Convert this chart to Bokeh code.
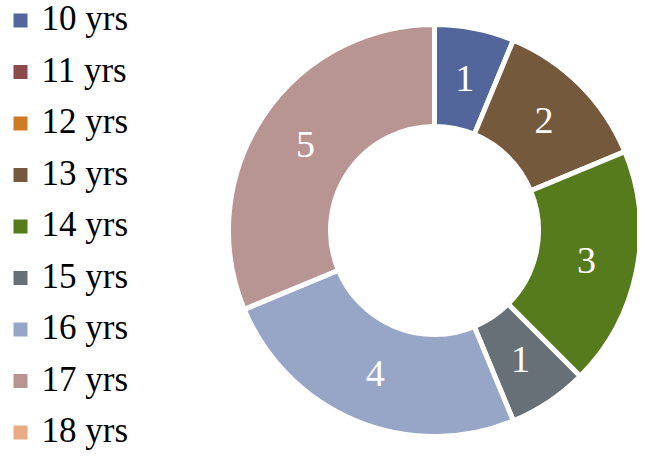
import math
from bokeh.plotting import figure
from bokeh.models import ColumnDataSource
from bokeh.core.properties import value
from bokeh.embed import file_html
from bokeh.resources import INLINE

categories = ["10 yrs", "11 yrs", "12 yrs", "13 yrs", "14 yrs", "15 yrs", "16 yrs", "17 yrs", "18 yrs"]
counts = [1, 0, 0, 2, 3, 1, 4, 5, 0]
colors = ["#52669c", "#8b4b4d", "#cf7a25", "#75593d", "#567b1c", "#667076", "#97a5c7", "#b89493", "#e9ab85"]

W, H = 637, 454
p = figure(width=W, height=H, x_range=(0, W), y_range=(0, H), min_border=0,
           x_axis_type=None, y_axis_type=None, toolbar_location=None,
           output_backend="svg", outline_line_color=None)
p.grid.visible = False

# donut geometry (data units == pixels)
cx, cy = 434, 224
r_in, r_out = 104, 206
r_lab = 155

total = sum(counts)
starts, ends, cols, labs, lx, ly = [], [], [], [], [], []
cum = 0
for c, col in zip(counts, colors):
    if c > 0:
        a0 = math.pi / 2 - 2 * math.pi * cum / total
        a1 = math.pi / 2 - 2 * math.pi * (cum + c) / total
        starts.append(a0)
        ends.append(a1)
        cols.append(col)
        mid = (a0 + a1) / 2
        lx.append(cx + r_lab * math.cos(mid))
        ly.append(cy + r_lab * math.sin(mid))
        labs.append(str(c))
    cum += c

src = ColumnDataSource(dict(start=starts, end=ends, color=cols))
p.annular_wedge(x=cx, y=cy, inner_radius=r_in, outer_radius=r_out,
                start_angle="start", end_angle="end", direction="clock",
                fill_color="color", line_color="white", line_width=5, source=src)

lsrc = ColumnDataSource(dict(x=lx, y=ly, t=labs))
p.text(x="x", y="y", text="t", source=lsrc, text_color="white",
       text_font=value("Liberation Serif"), text_font_size="38px",
       text_align="center", text_baseline="middle")

# legend
n = len(categories)
step = 51.5
sq_x = [20] * n
sq_y = [434 - step * i for i in range(n)]
tx = [41] * n
ty = [436 - step * i for i in range(n)]
leg = ColumnDataSource(dict(sx=sq_x, sy=sq_y, tx=tx, ty=ty, t=categories, color=colors))
p.rect(x="sx", y="sy", width=14, height=14, fill_color="color", line_color=None, source=leg)
p.text(x="tx", y="ty", text="t", source=leg, text_color="black",
       text_font=value("Liberation Serif"), text_font_size="35px",
       text_align="left", text_baseline="middle")

open("out.html", "w").write(file_html(p, INLINE))
